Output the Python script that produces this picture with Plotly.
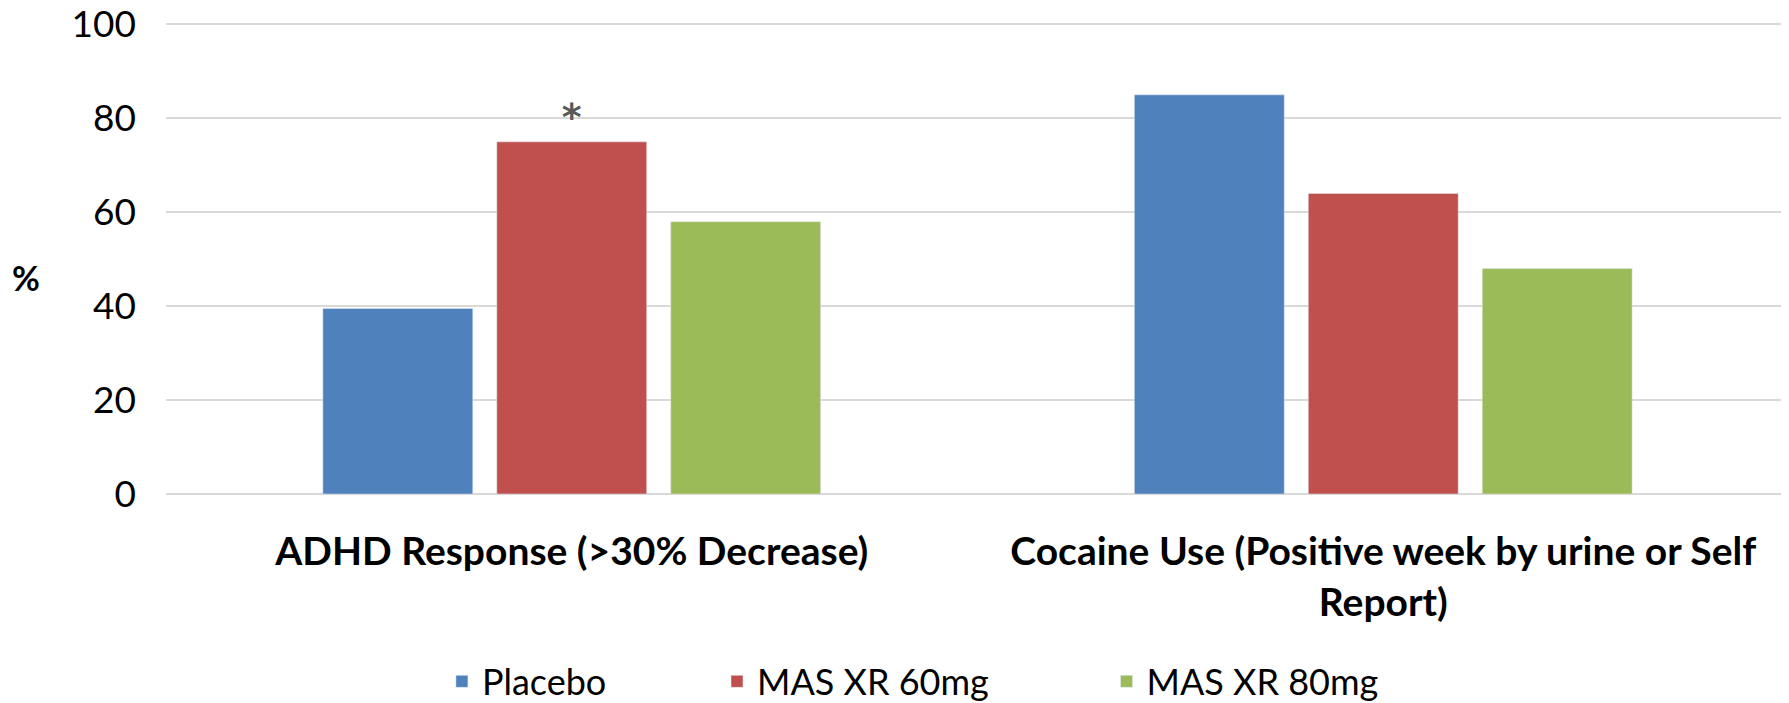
import plotly.graph_objects as go

# data
categories = ["ADHD Response (>30% Decrease)",
              "Cocaine Use (Positive week by urine or Self<br>Report)"]
placebo = [39.5, 85]
mas_xr_60 = [75, 64]
mas_xr_80 = [58, 48]
sig_60 = ["*", ""]

y_ticks = [0, 20, 40, 60, 80, 100]

fig = go.Figure()

fig.add_trace(go.Bar(x=categories, y=placebo, name="Placebo",
                     marker=dict(color="#4F81BD"), legend="legend"))
fig.add_trace(go.Bar(x=categories, y=mas_xr_60, name="MAS XR 60mg",
                     marker=dict(color="#C0504D"), legend="legend2",
                     text=sig_60, textposition="outside",
                     textfont=dict(size=38, color="#595959", family="DejaVu Sans", weight="bold"),
                     cliponaxis=False))
fig.add_trace(go.Bar(x=categories, y=mas_xr_80, name="MAS XR 80mg",
                     marker=dict(color="#9BBB59"), legend="legend3"))

# the "%" label sits left of the axis, not rotated
fig.add_annotation(text="<b>%</b>", xref="paper", yref="y", x=-0.096, y=46.2,
                   showarrow=False, font=dict(size=34, color="black"))

leg = dict(orientation="h", xanchor="left", y=-0.398, yanchor="middle",
           font=dict(size=36), itemwidth=30, bgcolor="rgba(0,0,0,0)")

fig.update_layout(
    width=1789, height=703,
    margin=dict(l=158, r=8, t=15, b=217, autoexpand=False),
    plot_bgcolor="white", paper_bgcolor="white",
    font=dict(family="Lato", color="black"),
    barmode="group", bargap=0.357, bargroupgap=0.138,
    showlegend=True,
    legend=dict(leg, x=0.170),
    legend2=dict(leg, x=0.3395),
    legend3=dict(leg, x=0.5795),
)
# top of range a hair above 100 so the 100 gridline is kept
fig.update_yaxes(range=[0, 100.3], tickvals=y_ticks, showgrid=True, gridcolor="#D9D9D9",
                 gridwidth=2, zeroline=True, zerolinecolor="#D9D9D9", zerolinewidth=2,
                 showline=False, tickfont=dict(size=37), ticklabelstandoff=29,
                 ticklabeloverflow="allow")
fig.update_xaxes(showline=False, tickfont=dict(size=39, weight="bold"),
                 ticklabelstandoff=31)

fig.write_html("out.html")
